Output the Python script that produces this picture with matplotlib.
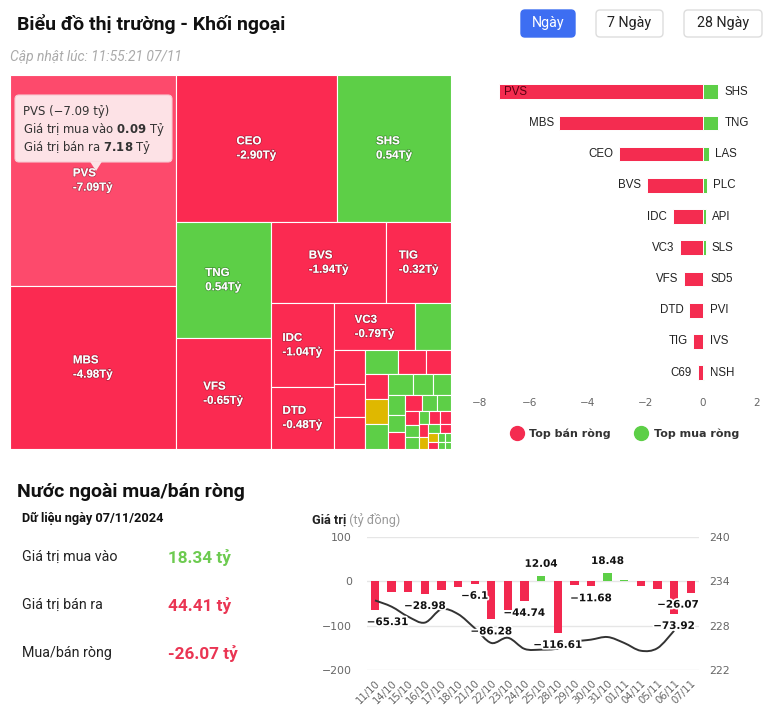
import numpy as np
import matplotlib.pyplot as plt
import matplotlib.patheffects as pe
from matplotlib.patches import Rectangle, FancyBboxPatch, Polygon, PathPatch
from matplotlib.path import Path
from matplotlib.lines import Line2D

# ---------------- data ----------------
# treemap: size ~ tổng giá trị giao dịch (tỷ), net = mua/bán ròng (tỷ)
tm_names = ['PVS', 'MBS', 'CEO', 'SHS', 'TNG', 'VFS', 'BVS', 'TIG', 'IDC', 'DTD', 'VC3']
tm_size = [7.27, 5.62, 4.94, 3.48, 2.32, 2.20, 1.96, 1.10, 1.09, 0.81, 0.80]
tm_net = [-7.09, -4.98, -2.90, 0.54, 0.54, -0.65, -1.94, -0.32, -1.04, -0.48, -0.79]
# small tiles without a visible label
small_size = [0.35, 0.22, 0.21, 0.21, 0.16, 0.14, 0.12, 0.12, 0.12, 0.12, 0.11, 0.09,
              0.08, 0.07, 0.06, 0.06, 0.055, 0.05, 0.045, 0.04, 0.035, 0.035, 0.03, 0.03,
              0.03, 0.025, 0.025, 0.02, 0.02, 0.018, 0.015, 0.012, 0.012, 0.01, 0.01]
small_net = [0.23, -0.18, -0.15, -0.12, 0.14, -0.1, -0.09, -0.08, 0.0, 0.1, 0.06, 0.05,
             0.04, 0.03, 0.02, -0.05, -0.04, 0.03, 0.02, -0.03, 0.02, 0.01, 0.01, -0.02,
             -0.02, -0.02, 0.0, 0.01, -0.01, 0.0, -0.01, 0.01, 0.01, 0.01, 0.01]

# top net sell / net buy
sell_names = ['PVS', 'MBS', 'CEO', 'BVS', 'IDC', 'VC3', 'VFS', 'DTD', 'TIG', 'C69']
sell_vals = [-7.09, -4.98, -2.90, -1.94, -1.04, -0.79, -0.65, -0.48, -0.32, -0.18]
buy_names = ['SHS', 'TNG', 'LAS', 'PLC', 'API', 'SLS', 'SD5', 'PVI', 'IVS', 'NSH']
buy_vals = [0.54, 0.54, 0.22, 0.14, 0.10, 0.10, 0.06, 0.05, 0.04, 0.03]

# daily foreign net value (tỷ đồng) and index (right axis)
dates = ['11/10', '14/10', '15/10', '16/10', '17/10', '18/10', '21/10', '22/10', '23/10', '24/10',
         '25/10', '28/10', '29/10', '30/10', '31/10', '01/11', '04/11', '05/11', '06/11', '07/11']
net_vals = [-65.31, -23.5, -23.5, -28.98, -20.5, -14.0, -6.1, -86.28, -66.0, -44.74,
            12.04, -116.61, -9.5, -11.68, 18.48, 3.0, -11.0, -18.5, -73.92, -26.07]
index_vals = [231.4, 230.55, 229.2, 228.4, 230.2, 229.55, 227.65, 225.65, 226.35, 224.85,
              224.75, 224.9, 225.8, 226.1, 226.45, 225.65, 224.6, 224.95, 227.3, np.nan]
label_idx = [0, 3, 6, 7, 9, 10, 11, 13, 14, 18, 19]

buy_total = 18.34
sell_total = 44.41
net_total = -26.07

RED = '#fb2a51'
RED_HI = '#fd4a6c'
GREEN = '#5dcf47'
YELLOW = '#dfb800'
UI = ['Roboto', 'DejaVu Sans']

fig = plt.figure(figsize=(7.7, 7.23), dpi=100)
bg = fig.add_axes([0, 0, 1, 1])
bg.set_xlim(0, 770)
bg.set_ylim(723, 0)
bg.axis('off')


def px_axes(x0, y0, x1, y1):
    return fig.add_axes([x0 / 770, 1 - y1 / 723, (x1 - x0) / 770, (y1 - y0) / 723])


# ---------------- header ----------------
bg.text(17, 24, 'Biểu đồ thị trường - Khối ngoại', fontsize=14, fontweight='bold',
        family=UI, va='center', color='#111')
bg.text(10, 57, 'Cập nhật lúc: 11:55:21 07/11', fontsize=10, style='italic',
        family=UI, va='center', color='#aaaaaa')
for label, x0, x1, active in [('Ngày', 521, 575, True), ('7 Ngày', 596, 663, False),
                              ('28 Ngày', 684, 762, False)]:
    bg.add_patch(FancyBboxPatch((x0, 10), x1 - x0, 27, boxstyle='round,pad=0,rounding_size=4',
                                fc='#3d6ef2' if active else 'white',
                                ec='#3d6ef2' if active else '#dddddd', lw=1))
    bg.text((x0 + x1) / 2, 23.5, label, ha='center', va='center', fontsize=10.3, family=UI,
            color='white' if active else '#222222')


# ---------------- treemap ----------------
def worst(row, w):
    s = sum(row)
    return max(max(w * w * r / (s * s), s * s / (w * w * r)) for r in row)


def squarify(vals, x, y, dx, dy):
    rects = []
    vals = list(vals)
    while vals:
        w = min(dx, dy)
        row = [vals[0]]
        i = 1
        while i < len(vals) and worst(row + [vals[i]], w) <= worst(row, w):
            row.append(vals[i])
            i += 1
        vals = vals[i:]
        s = sum(row)
        if dx >= dy:
            cw = s / dy
            yy = y
            for r in row:
                rects.append((x, yy, cw, r / cw))
                yy += r / cw
            x += cw
            dx -= cw
        else:
            rh = s / dx
            xx = x
            for r in row:
                rects.append((xx, y, r / rh, rh))
                xx += r / rh
            y += rh
            dy -= rh
    return rects


TW, TH = 441, 374
tm = px_axes(10, 75, 10 + TW, 75 + TH)
tm.set_xlim(0, TW)
tm.set_ylim(TH, 0)
tm.axis('off')

names = tm_names + [''] * len(small_size)
sizes = tm_size + small_size
nets = tm_net + small_net
order = sorted(range(len(sizes)), key=lambda k: -sizes[k])
total = sum(sizes)
areas = [sizes[k] * TW * TH / total for k in order]
rects = squarify(areas, 0, 0, TW, TH)

for k, (x, y, w, h) in zip(order, rects):
    v = nets[k]
    c = RED if v < 0 else (GREEN if v > 0 else YELLOW)
    if names[k] == 'PVS':
        c = RED_HI
    tm.add_patch(Rectangle((x, y), w, h, fc=c, ec='white', lw=0.8))
    if names[k] and w >= 55 and h >= 40:
        tm.text(x + w / 2, y + h / 2, f'{names[k]}\n{v:.2f}Tỷ', ha='center', va='center',
                multialignment='left', fontsize=8.3, fontweight='bold', color='white',
                family=['Liberation Sans', 'DejaVu Sans'], linespacing=1.25,
                path_effects=[pe.withStroke(linewidth=1.2, foreground=(0, 0, 0, 0.25))])

# tooltip on PVS
tm.add_patch(FancyBboxPatch((5, 20), 157, 67, boxstyle='round,pad=0,rounding_size=4',
                            fc='#fde2e6', ec='#f7c9d1', lw=0.8, zorder=5))
tm.add_patch(Polygon([(80, 86.5), (92, 86.5), (86, 96)], closed=True, fc='#fde2e6',
                     ec='none', zorder=6))
tip_font = dict(fontsize=8.4, color='#333333', family='DejaVu Sans', va='center', zorder=7)
tm.text(13, 37, 'PVS (−7.09 tỷ)', **tip_font)
tm.text(13, 55, r'Giá trị mua vào $\mathbf{0.09}$ Tỷ', **tip_font)
tm.text(13, 72, r'Giá trị bán ra $\mathbf{7.18}$ Tỷ', **tip_font)

# ---------------- top net sell / buy bars ----------------
bc = px_axes(472.3, 73, 760.3, 391.4)
rows = np.arange(len(sell_names))
bc.barh(rows, sell_vals, height=0.47, color='#f42c50', edgecolor='white', lw=0.7)
bc.barh(rows, buy_vals, height=0.47, color=GREEN, edgecolor='white', lw=0.7)
bc.set_xlim(-8, 2)
bc.set_ylim(9.6, -0.6)
bc.set_xticks([-8, -6, -4, -2, 0, 2])
bc.set_yticks([])
for s in bc.spines.values():
    s.set_visible(False)
bc.tick_params(axis='x', length=0, pad=5, labelsize=7.5, labelcolor='#666666')
xt = bc.get_xticklabels()
xt[0].set_ha('left')
xt[-1].set_ha('right')
lab_font = dict(fontsize=8.3, family=['Liberation Sans', 'DejaVu Sans'], va='center')
for r, (n, v) in enumerate(zip(sell_names, sell_vals)):
    if v < -6.5:
        bc.annotate(n, (v, r), xytext=(4, 0), textcoords='offset points', ha='left',
                    color='#5c0012', **lab_font)
    else:
        bc.annotate(n, (v, r), xytext=(-4, 0), textcoords='offset points', ha='right',
                    color='#222222', **lab_font)
for r, (n, v) in enumerate(zip(buy_names, buy_vals)):
    bc.annotate(n, (v, r), xytext=(4.5, 0), textcoords='offset points', ha='left',
                color='#222222', **lab_font)
handles = [Line2D([], [], marker='o', ls='none', ms=10, color='#f42c50', label='Top bán ròng'),
           Line2D([], [], marker='o', ls='none', ms=10, color=GREEN, label='Top mua ròng')]
bc.legend(handles=handles, loc='center', bbox_to_anchor=(0.53, -0.134), ncol=2, frameon=False,
          handletextpad=0.6, columnspacing=2.3, handlelength=1.0,
          prop=dict(family='DejaVu Sans', weight='bold', size=8), labelcolor='#333333')

# ---------------- bottom left summary ----------------
bg.text(17, 492, 'Nước ngoài mua/bán ròng', fontsize=14, fontweight='bold', family=UI,
        va='center', color='#111')
bg.text(22, 518, 'Dữ liệu ngày 07/11/2024', fontsize=9.2, fontweight='bold', family=UI,
        va='center', color='#111')
for y, lab, val, c in [(557, 'Giá trị mua vào', buy_total, '#6dcb50'),
                       (605, 'Giá trị bán ra', sell_total, '#ea3553'),
                       (653, 'Mua/bán ròng', net_total, '#ea3553')]:
    bg.text(22, y, lab, fontsize=10.3, family=UI, va='center', color='#222222')
    bg.text(168, y, f'{val:.2f} tỷ', fontsize=12.3, fontweight='bold', family=UI,
            va='center', color=c)

# ---------------- bottom chart ----------------
t = bg.text(312, 520, 'Giá trị', fontsize=9.2, fontweight='bold', family=UI, va='center',
            color='#222222')
bg.annotate(' (tỷ đồng)', xy=(1, 0.5), xycoords=t, va='center', fontsize=9.2, family=UI,
            color='#999999')

ch = px_axes(366.7, 536.7, 699, 670)
x = np.arange(len(dates))
ch.bar(x, net_vals, width=0.5, color=['#f2284f' if v < 0 else GREEN for v in net_vals])
ch.set_xlim(-0.5, len(dates) - 0.5)
ch.set_ylim(-200, 100)
ch.set_yticks([-200, -100, 0, 100])
ch.yaxis.grid(True, color='#e6e6e6', lw=1)
ch.set_axisbelow(True)
ch.set_xticks(x)
ch.set_xticklabels(dates, rotation=45, ha='right', rotation_mode='anchor', fontsize=7.3,
                   color='#666666')
ch.tick_params(length=0)
ch.tick_params(axis='y', pad=10.5, labelsize=7.8, labelcolor='#666666')
ch.tick_params(axis='x', pad=6)
for s in ch.spines.values():
    s.set_visible(False)

ax2 = ch.twinx()
ax2.set_ylim(222, 240)
ax2.set_yticks([222, 228, 234, 240])
ax2.tick_params(length=0, pad=7, labelsize=7.8, labelcolor='#666666')
for s in ax2.spines.values():
    s.set_visible(False)

# smooth (spline) index line
xs = [i for i, v in enumerate(index_vals) if not np.isnan(v)]
ys = [index_vals[i] for i in xs]
verts = [(xs[0], ys[0])]
codes = [Path.MOVETO]
n = len(xs)
for i in range(1, n):
    xa, ya = (xs[i - 2], ys[i - 2]) if i >= 2 else (xs[i - 1], ys[i - 1])
    xb, yb = (xs[i + 1], ys[i + 1]) if i + 1 < n else (xs[i], ys[i])
    c1 = (xs[i - 1] + (xs[i] - xa) / 6, ys[i - 1] + (ys[i] - ya) / 6)
    c2 = (xs[i] - (xb - xs[i - 1]) / 6, ys[i] - (yb - ys[i - 1]) / 6)
    verts += [c1, c2, (xs[i], ys[i])]
    codes += [Path.CURVE4] * 3
ax2.add_patch(PathPatch(Path(verts, codes), fill=False, ec='#333333', lw=1.4))

for i in label_idx:
    v = net_vals[i]
    txt = f'{v:g}'.replace('-', '−')
    xy = (i, v)
    ha = 'center'
    if i == 0:
        xy, ha = (-0.5, v), 'left'
    elif i == len(dates) - 1:
        xy, ha = (len(dates) - 0.5, v), 'right'
    ax2.annotate(txt, xy, xycoords=ch.transData, xytext=(0, -8.6 if v < 0 else 8.6),
                 textcoords='offset points', ha=ha, va='center', fontsize=7.5,
                 fontweight='bold', family='DejaVu Sans', color='#111111', zorder=10,
                 path_effects=[pe.withStroke(linewidth=2.5, foreground='white')])

fig.savefig('out.png', dpi=100)
